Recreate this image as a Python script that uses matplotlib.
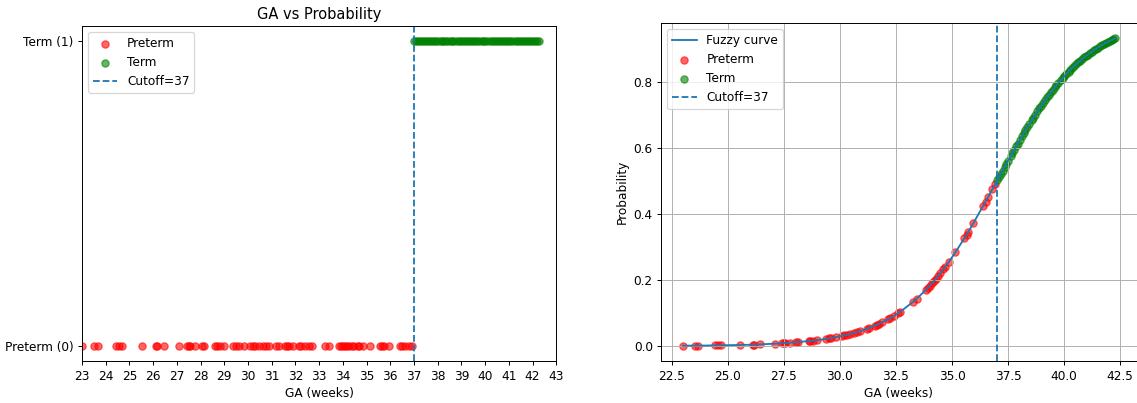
import matplotlib
matplotlib.use('Agg')
from matplotlib import pyplot as plt
import numpy as np

# gestational age (weeks) and fuzzy membership
preterm_ga = [23.00, 23.52, 23.66, 24.44, 24.58, 24.70, 25.55, 26.11, 26.17, 26.45,
              27.10, 27.41, 27.50, 27.56, 27.77, 28.05, 28.15, 28.62, 28.68, 28.80,
              29.00, 29.36, 29.50, 29.62, 29.82, 30.10, 30.20, 30.31, 30.45, 30.65,
              30.75, 30.90, 31.20, 31.30, 31.55, 31.65, 31.75, 31.88, 32.15, 32.25,
              32.40, 32.58, 32.70, 33.25, 33.42, 33.85, 33.92, 34.00, 34.10, 34.18,
              34.28, 34.38, 34.48, 34.62, 34.70, 34.85, 35.15, 35.55, 35.65, 35.72,
              35.95, 36.40, 36.50, 36.62, 36.80, 36.92]
preterm_p = [0.001, 0.001, 0.001, 0.002, 0.002, 0.002, 0.003, 0.004, 0.004, 0.005,
             0.007, 0.008, 0.009, 0.009, 0.010, 0.011, 0.012, 0.015, 0.015, 0.016,
             0.018, 0.021, 0.023, 0.024, 0.027, 0.031, 0.032, 0.034, 0.036, 0.040,
             0.042, 0.045, 0.052, 0.055, 0.062, 0.064, 0.068, 0.072, 0.081, 0.085,
             0.091, 0.099, 0.104, 0.133, 0.143, 0.171, 0.177, 0.182, 0.190, 0.196,
             0.204, 0.212, 0.221, 0.233, 0.240, 0.254, 0.284, 0.326, 0.337, 0.345,
             0.372, 0.426, 0.438, 0.453, 0.475, 0.490]

term_ga = [37.02, 37.10, 37.17, 37.26, 37.35, 37.42, 37.50, 37.61, 37.68, 37.77,
           37.85, 37.93, 38.02, 38.12, 38.20, 38.27, 38.36, 38.45, 38.55, 38.62,
           38.70, 38.81, 38.90, 38.97, 39.05, 39.15, 39.24, 39.31, 39.40, 39.50,
           39.58, 39.66, 39.75, 39.85, 39.93, 40.01, 40.10, 40.20, 40.28, 40.36,
           40.45, 40.55, 40.63, 40.72, 40.80, 40.90, 40.98, 41.06, 41.15, 41.25,
           41.33, 41.42, 41.50, 41.60, 41.68, 41.77, 41.85, 41.95, 42.03, 42.12,
           42.20, 42.27]
term_p = [0.502, 0.512, 0.521, 0.532, 0.544, 0.552, 0.562, 0.576, 0.584, 0.595,
          0.605, 0.614, 0.625, 0.636, 0.646, 0.654, 0.664, 0.674, 0.685, 0.692,
          0.701, 0.712, 0.721, 0.728, 0.736, 0.746, 0.754, 0.760, 0.769, 0.777,
          0.784, 0.791, 0.798, 0.806, 0.812, 0.818, 0.825, 0.832, 0.838, 0.843,
          0.849, 0.855, 0.860, 0.865, 0.870, 0.875, 0.880, 0.884, 0.888, 0.893,
          0.897, 0.901, 0.905, 0.909, 0.912, 0.916, 0.919, 0.922, 0.925, 0.928,
          0.931, 0.933]

cutoff = 37
class_labels = ['Preterm (0)', 'Term (1)']

# drawn a bit bigger and saved at lower dpi, like the original
fig = plt.figure(figsize=(13, 4.606))
ax1 = fig.add_axes([0.0721, 0.1042, 0.4169, 0.8313])
ax2 = fig.add_axes([0.5814, 0.1042, 0.4178, 0.8387])

# left: crisp classes
ax1.scatter(preterm_ga, np.zeros(len(preterm_ga)), color='red', alpha=0.6, label='Preterm')
ax1.scatter(term_ga, np.ones(len(term_ga)), color='green', alpha=0.6, label='Term')
ax1.axvline(cutoff, linestyle='--', label='Cutoff=%d' % cutoff)
ax1.set_xlim(23, 43)
ax1.set_xticks(np.arange(23, 44))
ax1.set_yticks([0, 1])
ax1.set_yticklabels(class_labels)
ax1.set_xlabel('GA (weeks)')
ax1.set_title('GA vs Probability')
ax1.legend(loc='upper left')

# right: fuzzy membership
all_ga = preterm_ga + term_ga
all_p = preterm_p + term_p
ax2.plot(all_ga, all_p, label='Fuzzy curve')
ax2.scatter(preterm_ga, preterm_p, color='red', alpha=0.6, label='Preterm')
ax2.scatter(term_ga, term_p, color='green', alpha=0.6, label='Term')
ax2.axvline(cutoff, linestyle='--', label='Cutoff=%d' % cutoff)
ax2.set_xlabel('GA (weeks)')
ax2.set_ylabel('Probability')
ax2.grid(True)
ax2.legend(loc='upper left')

fig.savefig('out.png', dpi=87.5)
